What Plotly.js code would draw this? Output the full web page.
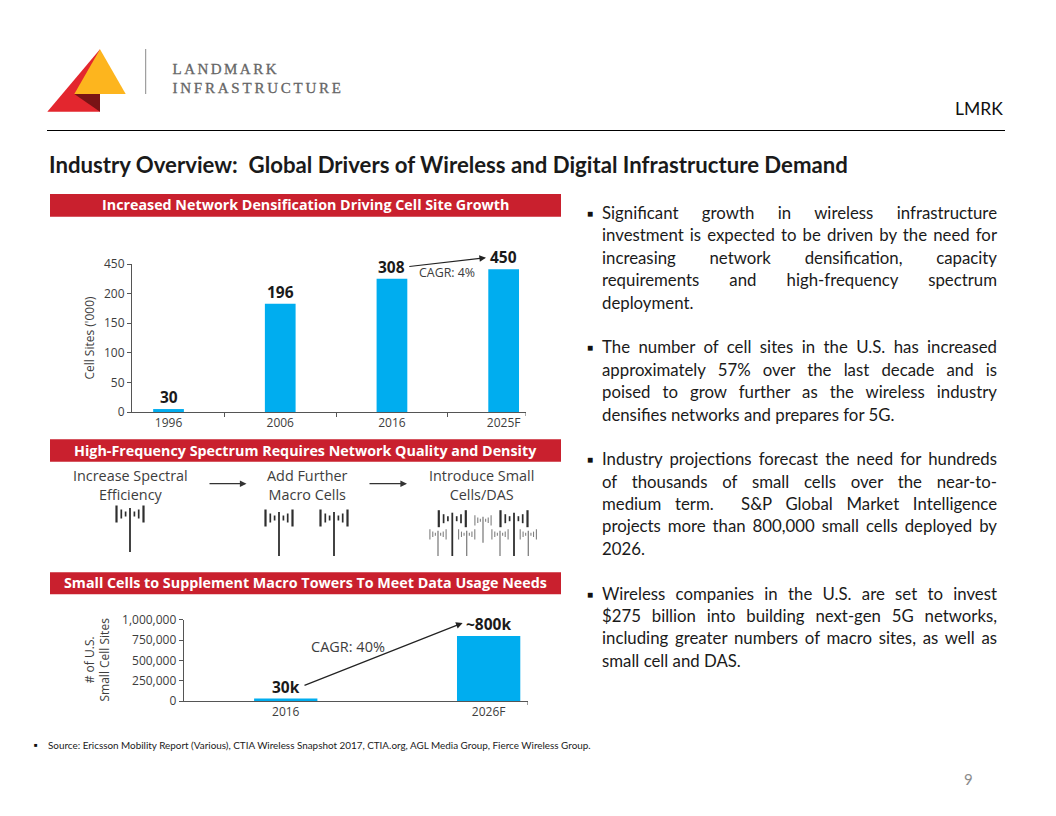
<!DOCTYPE html>
<html>
<head>
<meta charset="utf-8">
<script src="https://cdn.plot.ly/plotly-3.0.1.min.js"></script>
<style>
html,body{margin:0;padding:0;background:#fff;width:1056px;height:816px;overflow:hidden}
#chart{position:absolute;left:0;top:0;width:1056px;height:816px}
.ov{position:absolute;white-space:nowrap;font-family:Lato,sans-serif}
.logo{font-family:"Liberation Serif",serif;color:#666;font-size:15px;line-height:16px;-webkit-text-stroke:0.3px #666}
#body{left:602px;top:202px;width:395px;font-size:16.8px;line-height:22.4px;color:#1a1a1a}
#body div{height:22.4px;white-space:nowrap}
.b{position:absolute;left:587px;font-size:10px;color:#111;line-height:22.4px}
</style>
</head>
<body>
<div id="chart"></div>
<div class="ov logo" data-fit="104" style="left:172.5px;top:61px"><span>LANDMARK</span></div>
<div class="ov logo" data-fit="168.5" style="left:172.5px;top:80px"><span>INFRASTRUCTURE</span></div>
<div class="ov b" style="top:202px">■</div>
<div class="ov b" style="top:336.4px">■</div>
<div class="ov b" style="top:448.4px">■</div>
<div class="ov b" style="top:582.8px">■</div>
<div class="ov" id="body"></div>
<script>
// --- chart 1: cell sites (broken axis: top tick reads 450)
const siteCats = ['1996', '2006', '2016', '2025F'];
const siteDrawn = [5, 183, 225, 241];
const siteLabels = ['30', '196', '308', '450'];
const siteTickVals = [0, 50, 100, 150, 200, 250];
const siteTickText = ['0', '50', '100', '150', '200', '450'];
// --- chart 2: small cells
const smallCats = ['2016', '2026F'];
const smallValues = [30000, 800000];
const smallLabels = ['30k', '~800k'];
const smallTickVals = [0, 250000, 500000, 750000, 1000000];
// --- text
const panelTitles = ['Increased Network Densification Driving Cell Site Growth',
  'High-Frequency Spectrum Requires Network Quality and Density',
  'Small Cells to Supplement Macro Towers To Meet Data Usage Needs'];
const stepLabels = ['Increase Spectral<br>Efficiency', 'Add Further<br>Macro Cells', 'Introduce Small<br>Cells/DAS'];
const bodyParas = [
  ['Significant growth in wireless infrastructure','investment is expected to be driven by the need for','increasing network densification, capacity','requirements and high-frequency spectrum','deployment.'],
  ['The number of cell sites in the U.S. has increased','approximately 57% over the last decade and is','poised to grow further as the wireless industry','densifies networks and prepares for 5G.'],
  ['Industry projections forecast the need for hundreds','of thousands of small cells over the near-to-','medium term.\u00a0 S&P Global Market Intelligence','projects more than 800,000 small cells deployed by','2026.'],
  ['Wireless companies in the U.S. are set to invest','$275 billion into building next-gen 5G networks,','including greater numbers of macro sites, as well as','small cell and DAS.']
];
const sourceText = 'Source: Ericsson Mobility Report (Various), CTIA Wireless Snapshot 2017, CTIA.org, AGL Media Group, Fierce Wireless Group.';

const W = 1056, H = 816;
const px = x => x / W, py = y => 1 - y / H;
const FONT = '"Open Sans",sans-serif', LATO = 'Lato,sans-serif';
const INK = '#3d3d3d', BLUE = '#00ADEF', RED = '#C9202E', AXIS = '#555555';

// body copy: every line except the last of a paragraph is justified to the column
const bodyEl = document.getElementById('body');
bodyParas.forEach((p, pi) => {
  if (pi) bodyEl.appendChild(document.createElement('div'));
  p.forEach((t, i) => {
    const d = document.createElement('div'), s = document.createElement('span');
    s.textContent = t; d.appendChild(s); bodyEl.appendChild(d);
    const gaps = (t.match(/[ \u00a0]/g) || []).length;
    const last = i === p.length - 1;
    const natural = s.getBoundingClientRect().width;
    if (gaps && !last) s.style.wordSpacing = ((395 - natural) / gaps) + 'px';
  });
});
document.querySelectorAll('[data-fit]').forEach(el => {
  const s = el.firstChild, n = s.textContent.length;
  const w = s.getBoundingClientRect().width;
  s.style.letterSpacing = ((+el.dataset.fit - w) / (n - 1)) + 'px';
});

const shapes = [], annotations = [];
function pShape(o) { shapes.push(Object.assign({ xref: 'paper', yref: 'paper' }, o)); }
function line(x0, y0, x1, y1, color, width) {
  pShape({ type: 'line', x0: px(x0), y0: py(y0), x1: px(x1), y1: py(y1), line: { color: color, width: width } });
}
function poly(pts, fill) {
  const d = pts.map((p, i) => (i ? 'L' : 'M') + px(p[0]) + ' ' + py(p[1])).join(' ') + ' Z';
  pShape({ type: 'path', path: d, fillcolor: fill, line: { width: 0 } });
}
function label(x, y, text, size, color, family, xanchor, extra) {
  annotations.push(Object.assign({
    xref: 'paper', yref: 'paper', x: px(x), y: py(y), text: text, showarrow: false,
    xanchor: xanchor || 'center', yanchor: 'middle',
    font: { size: size, color: color, family: family || FONT }
  }, extra || {}));
}
function arrow(x0, y0, x1, y1, color, width) {
  annotations.push({ xref: 'paper', yref: 'paper', x: px(x1), y: py(y1), ax: x0 - x1, ay: y0 - y1,
    axref: 'pixel', ayref: 'pixel', text: '', showarrow: true, arrowhead: 2, arrowsize: 1.1,
    arrowwidth: width, arrowcolor: color });
}
// bar value labels, placed through the axes (category position = index)
function barLabels(vals, labels, xr, yr) {
  vals.forEach((v, i) => annotations.push({ xref: xr, yref: yr, x: i, y: v, yshift: 12, text: '<b>' + labels[i] + '</b>',
    showarrow: false, xanchor: 'center', yanchor: 'middle', font: { size: 15.5, color: '#1a1a1a', family: FONT } }));
}
barLabels(siteDrawn, siteLabels, 'x', 'y');
barLabels(smallValues, smallLabels, 'x2', 'y2');
// logo
poly([[100, 49.3], [47.3, 111.7], [100, 111.7]], '#E3262E');
poly([[100, 49.3], [74.3, 94], [125.7, 94]], '#FDB51E');
poly([[74.3, 94], [100, 94], [100, 111.7]], '#7A1315');
line(145.7, 49, 145.7, 94, '#8a8a8a', 1);
// header
label(1005, 109, 'LMRK', 17.5, '#111', LATO, 'right');
line(47, 130.5, 1005, 130.5, '#000', 1);
label(47, 165, '<b>Industry Overview:  Global Drivers of Wireless and Digital Infrastructure Demand</b>', 22.2, '#1a1a1a', LATO, 'left');
// panel headers
[[194, 216.7], [439.3, 461.7], [572.3, 594.3]].forEach((r, i) => {
  pShape({ type: 'rect', x0: px(50), x1: px(561), y0: py(r[0]), y1: py(r[1]), fillcolor: RED, line: { width: 0 } });
  label(305.5, (r[0] + r[1]) / 2 - 0.5, '<b>' + panelTitles[i] + '</b>', 14.3, '#fff');
});
// steps
label(130.6, 484.5, stepLabels[0], 14.4, INK);
label(307, 484.5, stepLabels[1], 14.4, INK);
label(481, 484.5, stepLabels[2], 14.4, INK);
arrow(208, 483.7, 246.5, 483.7, '#333', 1.2);
arrow(368, 483.7, 407, 483.7, '#333', 1.2);
// towers: [centre x, pole top, pole bottom, scale, colour]
const towers = [
  [130, 508, 552, 1, '#2e2e2e'], [279, 512, 556, 1, '#2e2e2e'], [334, 512, 556, 1, '#2e2e2e'],
  [452.3, 512.7, 556, 1, '#2e2e2e'], [514, 512.7, 556, 1, '#2e2e2e'],
  [438, 530.7, 556, 0.6, '#808080'], [466.7, 530.7, 556, 0.6, '#808080'], [500, 530.7, 556, 0.6, '#808080'], [528.3, 530.7, 556, 0.6, '#808080'],
  [483, 516.7, 542.7, 0.6, '#808080']
];
// bar offset, half-height around the cluster middle
const towerBars = [[13.5, 8.5], [8.7, 4.5], [4.4, 2.5]];
towers.forEach(t => {
  const [cx, top, bot, s, c] = t;
  line(cx, top, cx, bot, c, s === 1 ? 1.8 : 1.3);
  const mid = top + 6 * s;
  towerBars.forEach(b => {
    [-1, 1].forEach(d => line(cx + d * b[0] * s, mid - b[1] * s, cx + d * b[0] * s, mid + b[1] * s, c, s === 1 ? (b[0] > 10 ? 2.2 : 1.7) : 1.1));
  });
});
// chart notes
arrow(407.8, 266.7, 486, 257.7, '#222', 1.2);
label(446.5, 273, 'CAGR: 4%', 12.4, INK);
arrow(303, 686, 462.6, 623, '#222', 1.2);
label(348, 646, 'CAGR: 40%', 14.5, INK);
label(96.5, 660, '# of U.S.<br>Small Cell Sites', 12, INK, FONT, 'center', { textangle: -90 });
// footer
label(32, 745, '■', 6, '#111', FONT, 'left');
label(46, 745, sourceText, 9.88, '#1a1a1a', LATO, 'left');
label(968, 779, '9', 15, '#8c8c8c', LATO);
// right-end axis ticks
shapes.push({ type: 'line', xref: 'x', yref: 'paper', x0: 3.2, x1: 3.2, y0: py(412), y1: py(416), line: { color: AXIS, width: 1 } });
shapes.push({ type: 'line', xref: 'x2', yref: 'paper', x0: 1.193, x1: 1.193, y0: py(701), y1: py(705), line: { color: AXIS, width: 1 } });

const traces = [
  { type: 'bar', x: siteCats, y: siteDrawn, marker: { color: BLUE }, width: 0.275, xaxis: 'x', yaxis: 'y', hoverinfo: 'x+y' },
  { type: 'bar', x: smallCats, y: smallValues, marker: { color: BLUE }, width: 0.312, xaxis: 'x2', yaxis: 'y2', hoverinfo: 'x+y' }
];
const tf = { size: 12, color: INK, family: FONT };
const base = { showgrid: false, zeroline: false, showline: true, linecolor: AXIS, linewidth: 1, tickcolor: AXIS, tickwidth: 1, tickfont: tf, fixedrange: true };
const layout = {
  width: W, height: H, margin: { l: 0, r: 0, t: 0, b: 0 }, showlegend: false,
  paper_bgcolor: 'rgba(0,0,0,0)', plot_bgcolor: 'rgba(0,0,0,0)',
  xaxis: Object.assign({}, base, { domain: [px(132), px(526)], anchor: 'y', type: 'category', categoryorder: 'array', categoryarray: siteCats,
    range: [-0.327, 3.2], ticks: 'outside', ticklen: 4, tickson: 'boundaries' }),
  yaxis: Object.assign({}, base, { domain: [py(412), py(264)], anchor: 'x', range: [0, 250], tickmode: 'array', tickvals: siteTickVals, ticktext: siteTickText,
    ticks: 'outside', ticklen: 4, title: { text: "Cell Sites ('000)", font: tf, standoff: 6 } }),
  xaxis2: Object.assign({}, base, { domain: [px(183.7), px(527.8)], anchor: 'y2', type: 'category', categoryorder: 'array', categoryarray: smallCats,
    range: [-0.503, 1.193], ticks: '' }),
  yaxis2: Object.assign({}, base, { domain: [py(701), py(619.7)], anchor: 'x2', range: [0, 1000000], tickmode: 'array', tickvals: smallTickVals,
    tickformat: ',d', ticks: 'outside', ticklen: 4 }),
  shapes: shapes, annotations: annotations
};
Plotly.newPlot('chart', traces, layout, { displayModeBar: false, staticPlot: true });
</script>
</body>
</html>
